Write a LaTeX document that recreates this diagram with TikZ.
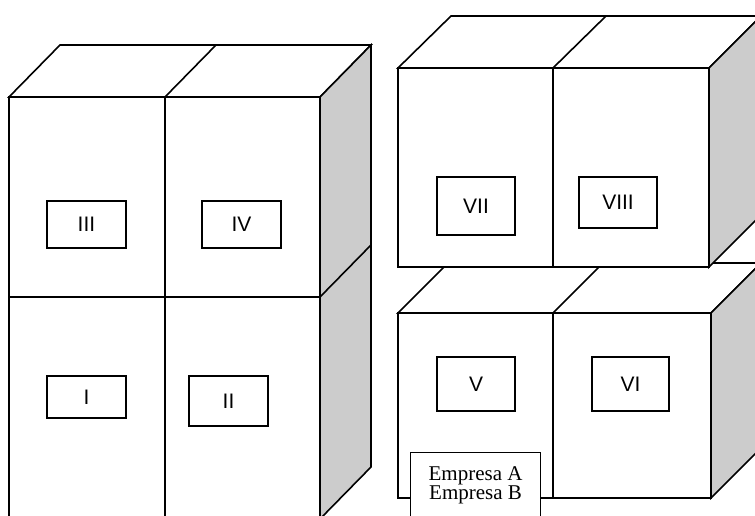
\documentclass[tikz,border=0pt]{standalone}
\usepackage{fontspec}
\setmainfont{Liberation Serif}
\setsansfont{Liberation Sans}
\usepackage{tikz}
\definecolor{faceGray}{RGB}{204,204,204}

\begin{document}
\begin{tikzpicture}[x=1pt, y=-1pt,
    blockline/.style={draw, line width=1.6pt, line join=miter},
    face/.style={blockline, fill=white},
    side/.style={blockline, fill=faceGray},
    tag/.style={draw, line width=1.2pt, fill=white, minimum width=79pt, inner sep=0pt,
        font=\sffamily\fontsize{21}{25}\selectfont}]
    \useasboundingbox (0,0) rectangle (755,516);
    \clip (0,0) rectangle (755,516);

    \draw[face]  (9,97) -- (60,45) -- (371,45) -- (320,97) -- cycle;
    \draw[blockline]  (165,97) -- (216,45);
    \draw[side]  (320,97) -- (371,45) -- (371,467) -- (320,519) -- cycle;
    \draw[blockline]  (371,245) -- (320,297);
    \draw[face]  (9,97) rectangle (320,519);
    \draw[blockline]  (9,297) -- (320,297);
    \draw[blockline]  (165,97) -- (165,519);

    \draw[face]  (398,313) -- (448,263) -- (761,263) -- (711,313) -- cycle;
    \draw[blockline]  (553,313) -- (603,263);
    \draw[side]  (711,313) -- (761,263) -- (761,448) -- (711,498) -- cycle;
    \draw[face]  (398,313) rectangle (711,498);
    \draw[blockline]  (553,313) -- (553,498);

    \draw[face]  (398,68) -- (451,16) -- (761,16) -- (709,68) -- cycle;
    \draw[blockline]  (553,68) -- (606,16);
    \draw[side]  (709,68) -- (761,16) -- (761,215) -- (709,267) -- cycle;
    \draw[face]  (398,68) rectangle (709,267);
    \draw[blockline]  (553,68) -- (553,267);

    \node[tag, minimum height=47pt] (tagIII) at (86.5,224.5) {III};
    \node[tag, minimum height=47pt] (tagIV) at (241.5,224.5) {IV};
    \node[tag, minimum height=42pt] (tagI) at (86.5,397) {I};
    \node[tag, minimum height=50pt] (tagII) at (228.5,401) {II};
    \node[tag, minimum height=58pt, minimum width=78pt] (tagVII) at (476,206) {VII};
    \node[tag, minimum height=51pt, minimum width=78pt] (tagVIII) at (618,202.5) {VIII};
    \node[tag, minimum height=54pt, minimum width=78pt] (tagV) at (476,384) {V};
    \node[tag, minimum height=54pt, minimum width=77pt] (tagVI) at (630.5,384) {VI};

    \node[draw, line width=1.2pt, fill=white, anchor=north west, minimum width=130pt,
        inner xsep=0pt, inner ysep=14pt, align=center,
        font=\fontsize{21}{19}\selectfont] (empresa) at (410,452) {Empresa A\\Empresa B};
\end{tikzpicture}
\end{document}
